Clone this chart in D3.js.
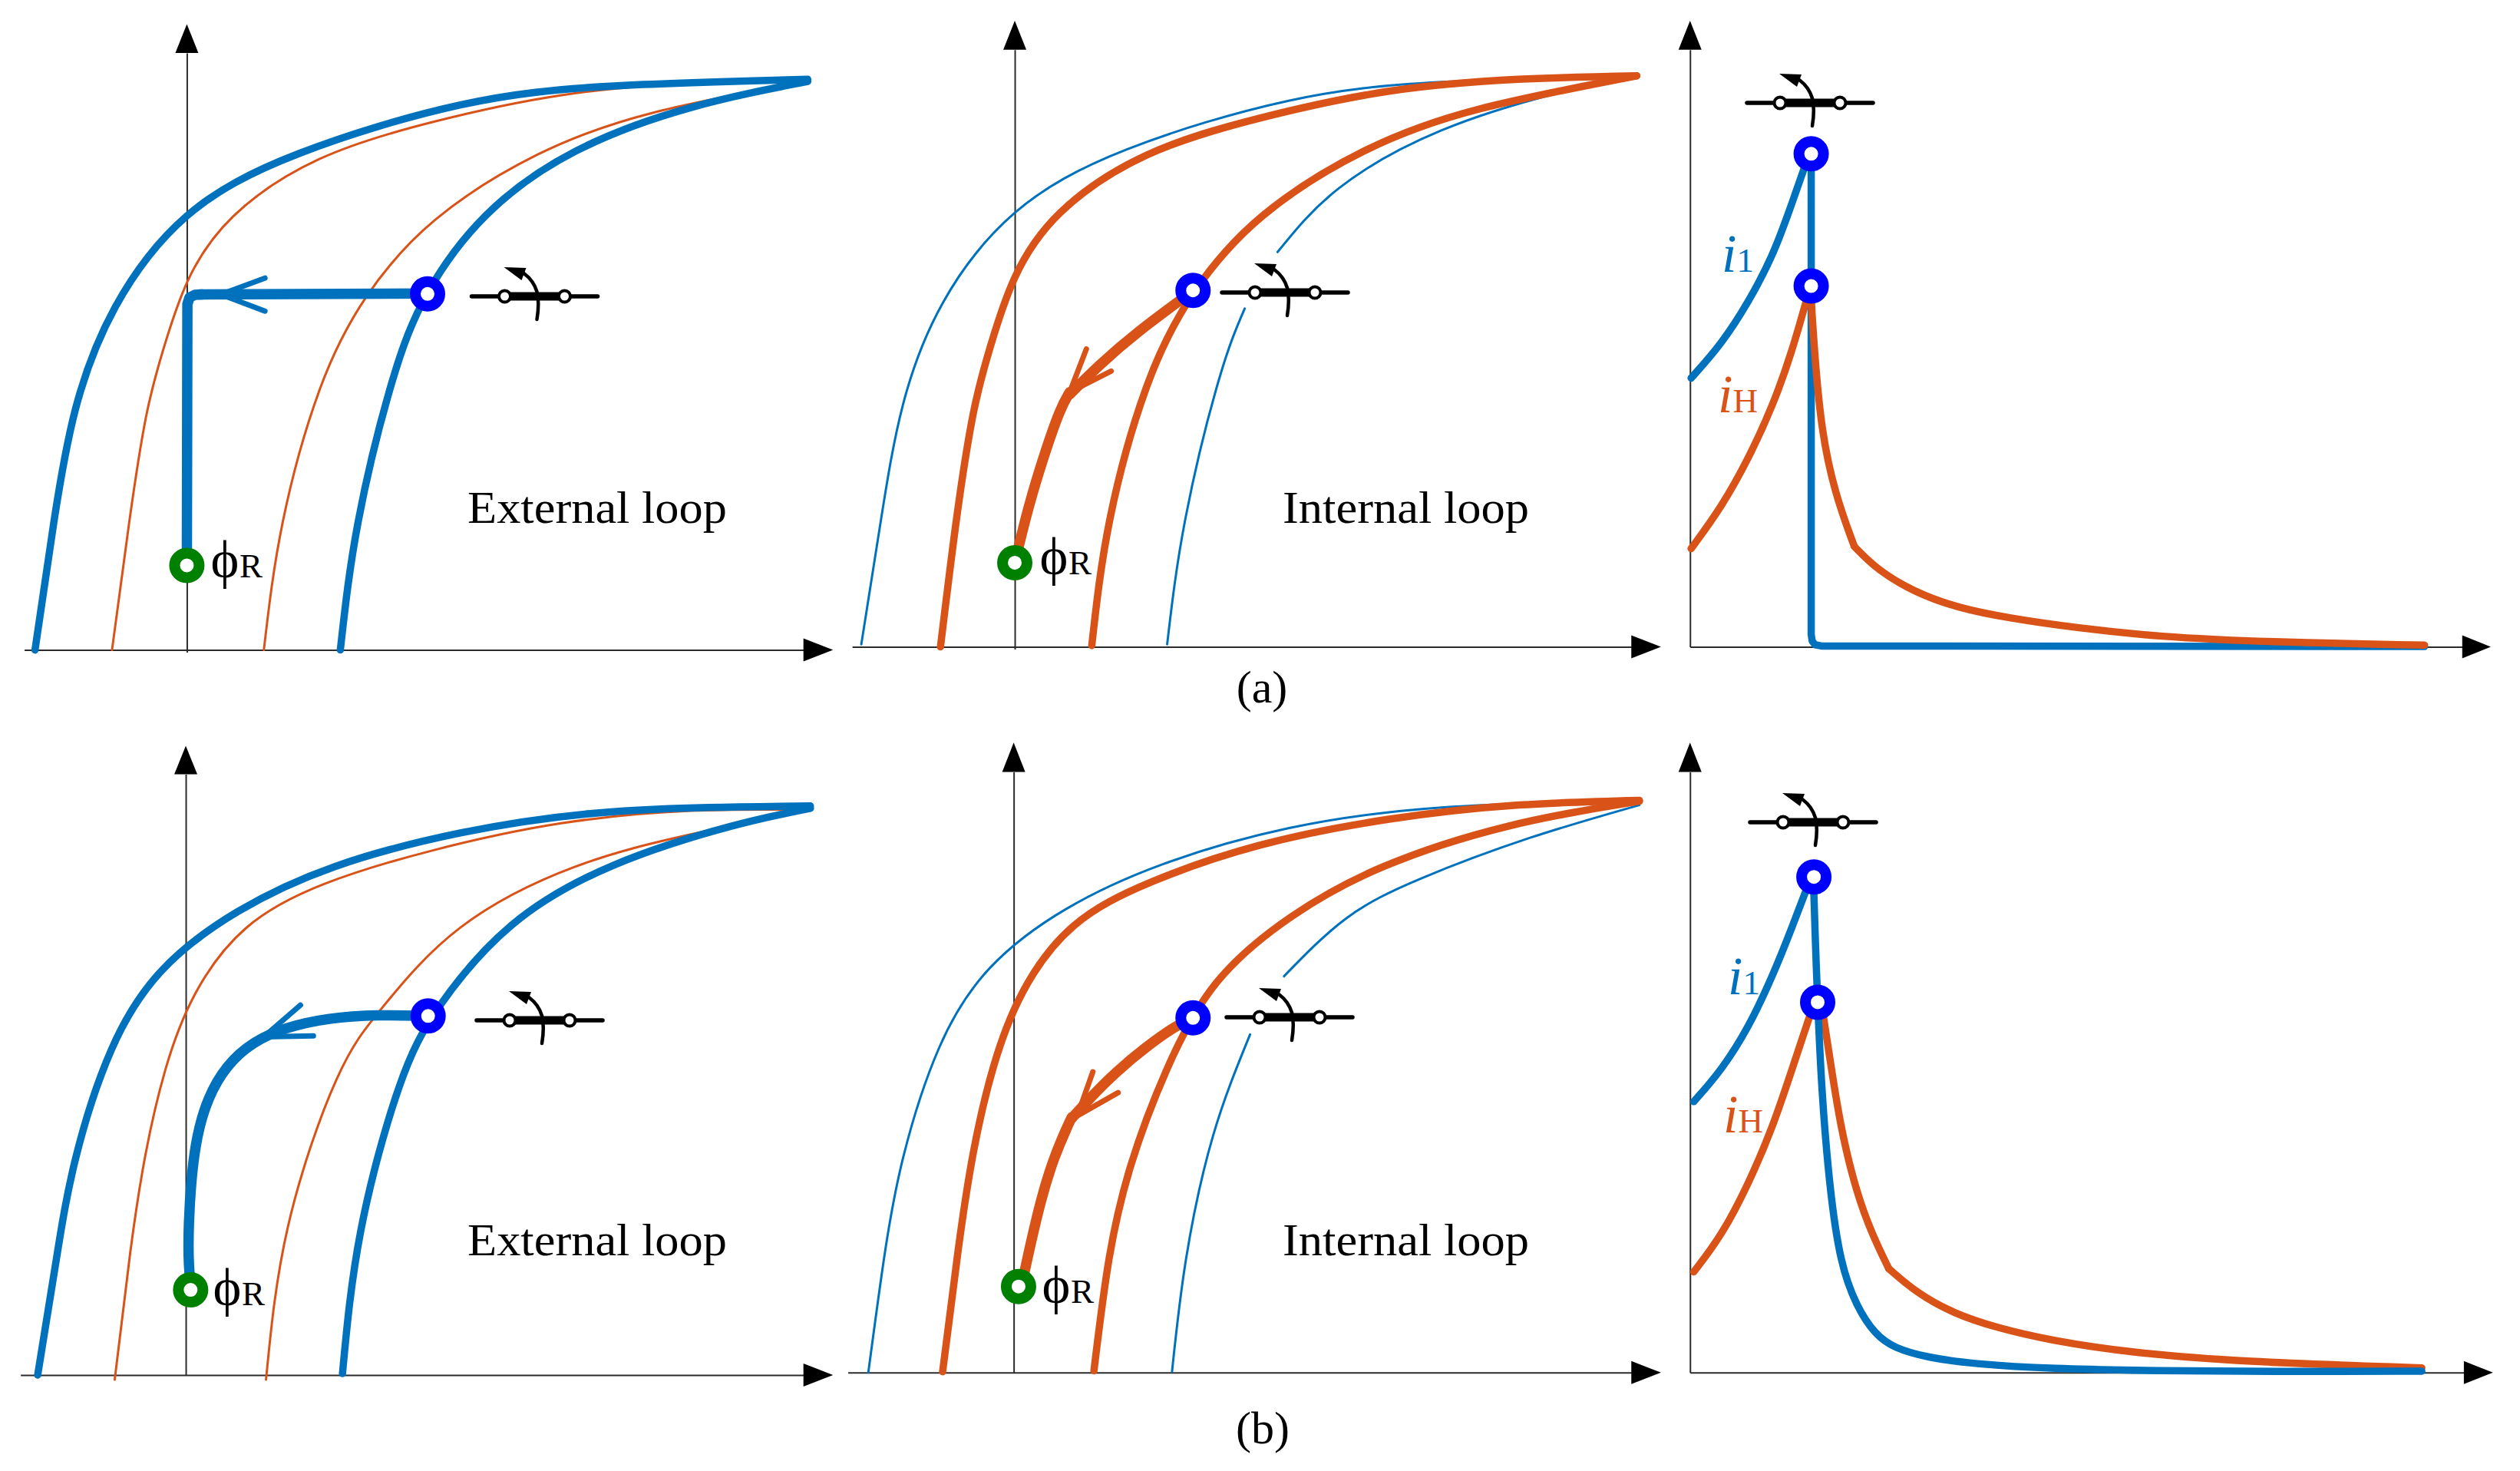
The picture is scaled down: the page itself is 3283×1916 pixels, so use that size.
<!DOCTYPE html>
<html><head><meta charset="utf-8">
<script src="https://cdn.jsdelivr.net/npm/d3@7/dist/d3.min.js"></script>
<style>html,body{margin:0;padding:0;background:#fff}svg{display:block}text{font-family:"Liberation Serif",serif}</style>
</head><body><svg id="c" width="3283" height="1916"></svg>
<script>
// All curves in picture units (0-1568 across each panel).
const a1BlueUpper=[[65,1475],[100,1185],[140,929],[214,697],[347,490],[556,348],[855,238],[1140,195],[1500,180]];
const a1BlueLower=[[632,1475],[665,1185],[727,871],[794,665],[903,488],[1069,343],[1283,244],[1500,185]];
const a1OrangeUpper=[[208,1475],[240,1185],[271,947],[303,794],[348,639],[433,491],[593,361],[803,277],[1043,216],[1283,189],[1500,183]];
const a1OrangeLower=[[490,1475],[525,1185],[594,883],[680,674],[808,499],[998,351],[1212,256],[1500,183]];
const a1PathH=[[794,666],[370,668]];
const a1PathV=[[376,668],[362,669],[352,675],[348,690],[347,1283]];
const a1Arrow=[[[492,631],[410,668],[492,706]]];

const a2BlueUpper=[[60,1462],[97,1176],[137,920],[211,688],[345,483],[553,339],[852,229],[1137,186],[1500,172]];
const a2BlueLowerA=[[628,1462],[662,1176],[724,862],[772,700]];
const a2BlueLowerB=[[833,572],[947,427],[1137,296],[1351,212],[1500,172]];
const a2OrangeUpper=[[207,1468],[237,1176],[268,938],[300,785],[345,630],[430,482],[590,352],[800,268],[1040,207],[1280,180],[1500,172]];
const a2OrangeLower=[[488,1465],[522,1176],[591,874],[677,665],[805,490],[995,342],[1209,247],[1500,172]];
const a2BranchA=[[676,660],[570,755],[500,830],[447,895]];
const a2BranchB=[[447,890],[430,925],[400,1030],[370,1150],[345,1277]];
const a2Arrow=[[[478,792],[447,890],[524,842]]];

const a3BlueRise=[[33,858],[90,780],[140,685],[185,580],[215,480],[252,350]];
const a3BlueFall=[[256,350],[256,1440],[258,1455],[263,1463],[275,1466],[1395,1467]];
const a3OrangeRise=[[33,1245],[90,1150],[140,1040],[185,920],[220,800],[252,660]];
const a3OrangeFallA=[[255,660],[262,800],[275,980],[300,1120],[336,1240]];
const a3OrangeFallB=[[336,1240],[380,1295],[450,1345],[530,1380],[620,1402],[750,1425],[900,1445],[1100,1457],[1395,1464]];

const b1BlueUpper=[[70,1365],[104,1125],[140,909],[207,677],[302,508],[442,385],[622,290],[855,219],[1140,174],[1505,162]];
const b1BlueLower=[[636,1362],[670,1060],[740,760],[817,584],[950,414],[1140,287],[1354,206],[1505,167]];
const b1OrangeUpper=[[213,1375],[242,1105],[270,900],[307,720],[362,560],[457,420],[602,327],[800,257],[1040,199],[1283,172],[1505,170]];
const b1OrangeLower=[[494,1375],[535,1050],[625,740],[713,584],[855,419],[1069,290],[1283,222],[1505,168]];
const b1Path=[[795,606],[700,603],[610,610],[530,630],[470,660],[420,710],[385,780],[365,860],[355,950],[350,1050],[350,1120],[352,1150]];
const b1Arrow=[[[558,583],[490,650],[582,648]]];

const b2BlueUpper=[[73,1360],[102,1120],[138,904],[205,672],[300,503],[440,380],[620,285],[853,209],[1138,165],[1505,150]];
const b2BlueLowerA=[[637,1358],[663,1120],[713,860],[782,645]];
const b2BlueLowerB=[[845,522],[960,400],[1100,315],[1300,230],[1505,160]];
const b2OrangeUpper=[[211,1358],[240,1100],[268,895],[305,715],[360,555],[455,415],[600,322],[800,245],[1040,190],[1281,160],[1505,150]];
const b2OrangeLower=[[492,1356],[520,1120],[561,920],[627,720],[720,535],[860,395],[1030,290],[1260,205],[1505,152]];
const b2BranchA=[[676,610],[646,625],[589,671],[532,725],[485,779],[451,822]];
const b2BranchB=[[451,820],[444,836],[418,904],[394,990],[368,1120],[358,1175]];
const b2Arrow=[[[490,724],[461,817],[537,768]]];

const b3BlueRise=[[38,787],[90,720],[140,630],[185,520],[220,420],[256,312]];
const b3BlueFall=[[260,312],[264,460],[268,577],[275,760],[290,970],[310,1130],[340,1220],[375,1280],[410,1308],[470,1328],[560,1342],[700,1352],[900,1356],[1100,1358],[1390,1357]];
const b3OrangeRise=[[38,1147],[90,1070],[140,960],[185,840],[220,720],[258,590]];
const b3OrangeFallA=[[275,580],[290,690],[310,840],[340,980],[370,1070],[400,1140]];
const b3OrangeFallB=[[400,1140],[450,1190],[520,1235],[600,1265],[700,1292],[850,1318],[1050,1337],[1390,1350]];

const BLUE="#0072BD",ORANGE="#D95319",RING_BLUE="#0000FF",RING_GREEN="#008000";
const THIN=3,MID=9.5,THICK=13.5;
const STRAIGHT=[a1PathH,a1PathV,a3BlueFall];
const LOOP_CURVES=[a1BlueUpper,a1BlueLower,a1OrangeUpper,a1OrangeLower,a2BlueUpper,a2BlueLowerA,a2BlueLowerB,a2OrangeUpper,a2OrangeLower,
 b1BlueUpper,b1BlueLower,b1OrangeUpper,b1OrangeLower,b2BlueUpper,b2BlueLowerA,b2BlueLowerB,b2OrangeUpper,b2OrangeLower];

const panels=[
 {left:0,top:0,h:900,xa:[45,1492,1547],ya:[1475,120,55,1480,347],
  lines:[[a1OrangeUpper,ORANGE,THIN],[a1OrangeLower,ORANGE,THIN],[a1BlueUpper,BLUE,MID],[a1BlueLower,BLUE,MID],[a1PathH,BLUE,THICK],[a1PathV,BLUE,THICK]],
  arrow:[a1Arrow,BLUE],blue:[[794,667]],green:[[347,1283]],sw:[696.5,386],phi:[293,752,"External loop",609,681,338]},
 {left:1080,top:0,h:900,xa:[43,1490,1545],ya:[1468,113,47,1473,345],
  lines:[[a2BlueUpper,BLUE,THIN],[a2BlueLowerA,BLUE,THIN],[a2BlueLowerB,BLUE,THIN],[a2OrangeUpper,ORANGE,MID],[a2OrangeLower,ORANGE,MID],[a2BranchA,ORANGE,THICK],[a2BranchB,ORANGE,THICK]],
  arrow:[a2Arrow,ORANGE],blue:[[676,659]],green:[[345,1277]],sw:[1674,381],phi:[1373,748,"Internal loop",1671,681,321]},
 {left:2180,top:0,h:900,xa:[31,1465,1518],ya:[1468,113,47,1468,31],
  lines:[[a3BlueRise,BLUE,MID],[a3BlueFall,BLUE,MID],[a3OrangeRise,ORANGE,MID],[a3OrangeFallA,ORANGE,MID],[a3OrangeFallB,ORANGE,MID]],
  blue:[[256,349],[256,649]],green:[],sw:[2358,134],cur:[[2243,354],[2238,537]]},
 {left:0,top:950,h:966,xa:[38,1492,1547],ya:[1365,95,35,1365,345],
  lines:[[b1OrangeUpper,ORANGE,THIN],[b1OrangeLower,ORANGE,THIN],[b1BlueUpper,BLUE,MID],[b1BlueLower,BLUE,MID],[b1Path,BLUE,THICK]],
  arrow:[b1Arrow,BLUE],blue:[[795,606]],green:[[354,1185]],sw:[703,1329],phi:[296,1700,"External loop",609,1635,338]},
 {left:1080,top:950,h:966,xa:[35,1490,1545],ya:[1360,90,28,1360,343],
  lines:[[b2BlueUpper,BLUE,THIN],[b2BlueLowerA,BLUE,THIN],[b2BlueLowerB,BLUE,THIN],[b2OrangeUpper,ORANGE,MID],[b2OrangeLower,ORANGE,MID],[b2BranchA,ORANGE,THICK],[b2BranchB,ORANGE,THICK]],
  arrow:[b2Arrow,ORANGE],blue:[[676,610]],green:[[352,1178]],sw:[1680,1325],phi:[1376,1697,"Internal loop",1671,1635,321]},
 {left:2180,top:950,h:966,xa:[31,1468,1522],ya:[1360,90,28,1360,31],
  lines:[[b3OrangeRise,ORANGE,MID],[b3OrangeFallA,ORANGE,MID],[b3OrangeFallB,ORANGE,MID],[b3BlueRise,BLUE,MID],[b3BlueFall,BLUE,MID]],
  blue:[[261,312],[268,577]],green:[],sw:[2362,1071],cur:[[2251,1295],[2245,1475]]}
];
const captions=[["(a)",1644,915],["(b)",1645,1880]];

const svg=d3.select("#c");

function drawSwitch(g,cx,cy){
 const s=g.append("g").attr("transform",`translate(${cx},${cy})`);
 s.append("line").attr("x1",-82).attr("x2",82).attr("stroke","#000").attr("stroke-width",5.5).attr("stroke-linecap","round");
 s.append("line").attr("x1",-39).attr("x2",39).attr("stroke","#000").attr("stroke-width",11);
 [-39,39].forEach(dx=>s.append("circle").attr("cx",dx).attr("r",7.5).attr("fill","#fff").attr("stroke","#000").attr("stroke-width",4));
 s.append("path").attr("d","M3,30 C5,18 6,6 3,-6 C0,-16 -6,-24 -14,-30").attr("fill","none").attr("stroke","#000").attr("stroke-width",4.5).attr("stroke-linecap","round");
 s.append("path").attr("d","M-40,-38 L-11,-37 L-17,-21 Z").attr("fill","#000");
}

panels.forEach(p=>{
 const x=d3.scaleLinear().domain([0,1568]).range([p.left,p.left+1100]);
 const y=d3.scaleLinear().domain([0,1568]).range([p.top,p.top+p.h]);
 const g=svg.append("g");
 const [x0,xb,xt]=p.xa, [ay,yb,yt,ybot,ax]=p.ya;
 // axes: no ticks in the reference, only the domain line
 g.append("g").attr("transform",`translate(0,${y(ay)})`)
  .call(d3.axisBottom(d3.scaleLinear().domain([x0,xb]).range([x(x0),x(xb)])).tickValues([]).tickSize(0))
  .select(".domain").attr("stroke","#2b2b2b").attr("stroke-width",2);
 g.append("g").attr("transform",`translate(${x(ax)},0)`)
  .call(d3.axisLeft(d3.scaleLinear().domain([yb,ybot]).range([y(yb),y(ybot)])).tickValues([]).tickSize(0))
  .select(".domain").attr("stroke","#2b2b2b").attr("stroke-width",2);
 g.append("path").attr("d",`M${x(xt)},${y(ay)} L${x(xb)},${y(ay)-15} L${x(xb)},${y(ay)+15} Z`).attr("fill","#000");
 g.append("path").attr("d",`M${x(ax)},${y(yt)} L${x(ax)-15},${y(yb)} L${x(ax)+15},${y(yb)} Z`).attr("fill","#000");

 const basis=d3.line().x(d=>x(d[0])).y(d=>y(d[1])).curve(d3.curveBasis);
 const natural=d3.line().x(d=>x(d[0])).y(d=>y(d[1])).curve(d3.curveNatural);
 const lin=d3.line().x(d=>x(d[0])).y(d=>y(d[1]));
 const pick=pts=>STRAIGHT.includes(pts)?lin:LOOP_CURVES.includes(pts)?natural:basis;
 p.lines.forEach(([pts,col,w])=>g.append("path").datum(pts).attr("d",pick(pts)).attr("fill","none").attr("stroke",col).attr("stroke-width",w).attr("stroke-linecap","round").attr("stroke-linejoin","round"));
 if(p.arrow){
  p.arrow[0].forEach(pts=>g.append("path").datum(pts).attr("d",lin).attr("fill","none").attr("stroke",p.arrow[1]).attr("stroke-width",7).attr("stroke-linecap","round").attr("stroke-linejoin","round"));
 }
 const ring=(pts,col)=>g.selectAll(null).data(pts).join("circle").attr("cx",d=>x(d[0])).attr("cy",d=>y(d[1])).attr("r",16).attr("fill","#fff").attr("stroke",col).attr("stroke-width",14);
 ring(p.blue,RING_BLUE); ring(p.green,RING_GREEN);
 drawSwitch(g,p.sw[0],p.sw[1]);
 if(p.phi){
  const [sx,by,label,lx,ly,lw]=p.phi;
  g.append("text").attr("x",sx).attr("y",by).attr("text-anchor","middle").attr("font-size",70).text("\u03D5");
  g.append("text").attr("x",sx+19).attr("y",by).attr("font-size",45).text("R");
  g.append("text").attr("x",lx).attr("y",ly).attr("font-size",60).attr("textLength",lw).attr("lengthAdjust","spacingAndGlyphs").text(label);
 }
 if(p.cur){
  const lab=(pos,sub,col)=>{const t=g.append("text").attr("x",pos[0]).attr("y",pos[1]).attr("fill",col);
   t.append("tspan").attr("font-style","italic").attr("font-size",70).text("i");
   t.append("tspan").attr("font-size",45).text(sub);};
  lab(p.cur[0],"1",BLUE); lab(p.cur[1],"H",ORANGE);
 }
});
captions.forEach(([t,x,y])=>svg.append("text").attr("x",x).attr("y",y).attr("text-anchor","middle").attr("font-size",60).text(t));
</script></body></html>
